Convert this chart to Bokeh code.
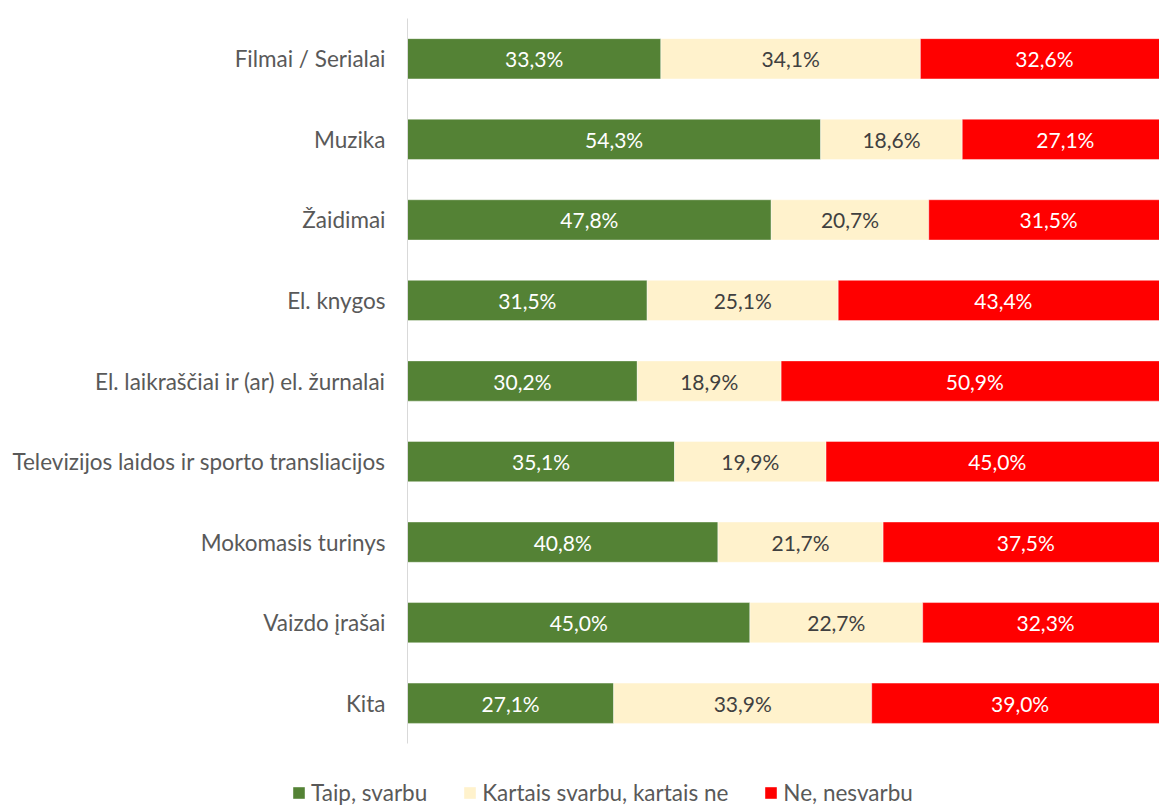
from bokeh.plotting import figure
from bokeh.models import ColumnDataSource, Range1d, Legend, LegendItem, FixedTicker
from bokeh.core.properties import value
from bokeh.embed import file_html
from bokeh.resources import INLINE

categories = [
    "Filmai / Serialai",
    "Muzika",
    "Žaidimai",
    "El. knygos",
    "El. laikraščiai ir (ar) el. žurnalai",
    "Televizijos laidos ir sporto transliacijos",
    "Mokomasis turinys",
    "Vaizdo įrašai",
    "Kita",
]
taip = [33.3, 54.3, 47.8, 31.5, 30.2, 35.1, 40.8, 45.0, 27.1]
kartais = [34.1, 18.6, 20.7, 25.1, 18.9, 19.9, 21.7, 22.7, 33.9]
ne = [32.6, 27.1, 31.5, 43.4, 50.9, 45.0, 37.5, 32.3, 39.0]
series_names = ["Taip, svarbu", "Kartais svarbu, kartais ne", "Ne, nesvarbu"]
colors = ["#548235", "#FFF2CC", "#FF0000"]
text_colors = ["#FFFFFF", "#404040", "#FFFFFF"]

FONT = "Lato"
FS = "21px"
FS_CAT = "22.5px"

idx = list(range(len(categories)))

p = figure(
    width=1159, height=806,
    x_range=Range1d(-53.48, 98.82),
    y_range=Range1d(9.2816, -0.7234),
    x_axis_location=None,
    output_backend="svg", toolbar_location=None,
    min_border=0,
)
p.outline_line_color = None
p.xgrid.visible = False
p.ygrid.visible = False
p.background_fill_color = "white"
p.border_fill_color = "white"

ax = p.yaxis[0]
ax.fixed_location = 0
ax.bounds = (-0.5, len(categories) - 0.5)
ax.ticker = FixedTicker(ticks=idx)
ax.major_label_overrides = {i: c for i, c in zip(idx, categories)}
ax.axis_line_color = "#D9D9D9"
ax.axis_line_width = 1
ax.major_tick_line_color = None
ax.minor_tick_line_color = None
ax.major_tick_out = 0
ax.major_tick_in = 0
ax.major_label_standoff = 22
ax.major_label_text_font = FONT
ax.major_label_text_font_size = FS_CAT
ax.major_label_text_color = "#595959"

series = [taip, kartais, ne]
renderers = []
left = [0.0] * len(categories)
for vals, col, tcol in zip(series, colors, text_colors):
    right = [l + v for l, v in zip(left, vals)]
    mid = [(l + r) / 2 for l, r in zip(left, right)]
    labels = [f"{v:.1f}%".replace(".", ",") for v in vals]
    src = ColumnDataSource(dict(y=idx, left=left, right=right, mid=mid, label=labels))
    r = p.hbar(y="y", left="left", right="right", height=0.5, source=src,
               fill_color=col, line_color="white", line_width=0.7, line_alpha=0.6)
    renderers.append(r)
    p.text(x="mid", y="y", text="label", source=src, text_align="center",
           text_baseline="middle", text_font=value(FONT), text_font_size=FS,
           text_color=tcol)
    left = right

legend = Legend(
    items=[LegendItem(label=n, renderers=[r]) for n, r in zip(series_names, renderers)],
    orientation="horizontal",
    location=(291, 0),
    glyph_width=15, glyph_height=15,
    label_standoff=5, spacing=35,
    padding=0, margin=0,
    border_line_color=None, background_fill_alpha=0,
    label_text_font=FONT, label_text_font_size=FS_CAT, label_text_color="#595959",
)
p.add_layout(legend)

open("out.html", "w").write(file_html(p, INLINE))
